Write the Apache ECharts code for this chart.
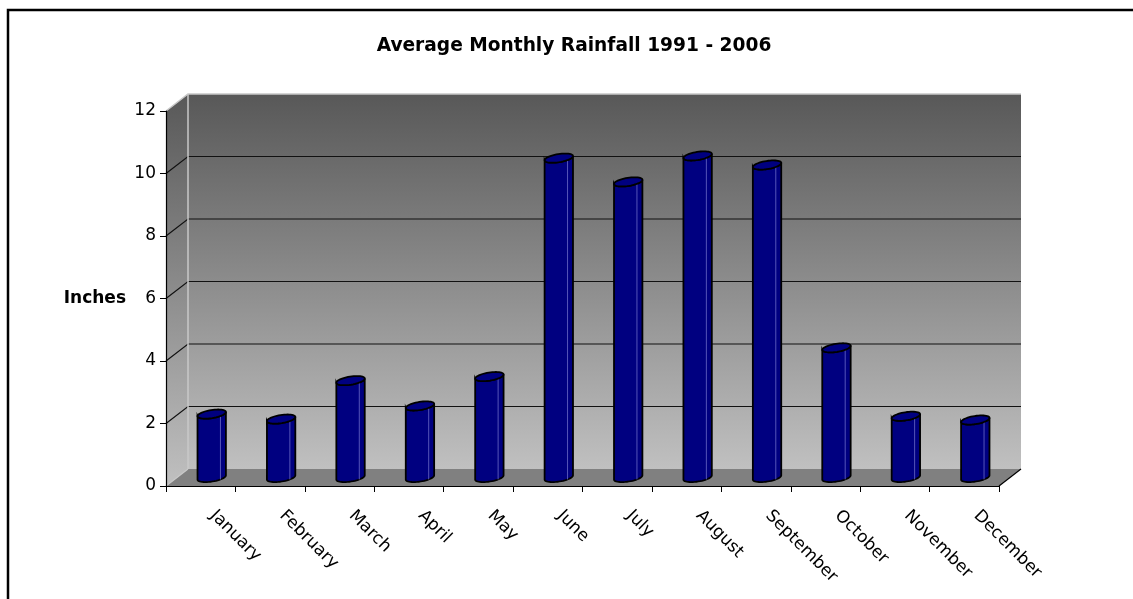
<!DOCTYPE html>
<html>
<head>
<meta charset="utf-8">
<title>Average Monthly Rainfall 1991 - 2006</title>
<script src="https://cdn.jsdelivr.net/npm/echarts@6/dist/echarts.min.js"></script>
<style>
  html, body { margin: 0; padding: 0; background: #ffffff; }
  #chart { width: 1133px; height: 599px; }
</style>
</head>
<body>
<div id="chart"></div>
<script>
// Average monthly rainfall (inches), 1991 - 2006
const months = ['January', 'February', 'March', 'April', 'May', 'June',
                'July', 'August', 'September', 'October', 'November', 'December'];
const rainfall = [2.03, 1.87, 3.10, 2.29, 3.23, 10.22, 9.46, 10.29, 10.0, 4.15, 1.96, 1.84];
const yTicks = [0, 2, 4, 6, 8, 10, 12];

const FONT = 'DejaVu Sans';
// Pseudo-3D depth of the plot box (pixels, towards the back wall)
const DEPTH_X = 22;
const DEPTH_Y = -17;

const chart = echarts.init(document.getElementById('chart'), null, { renderer: 'canvas' });

function wallGradient() {
  return new echarts.graphic.LinearGradient(0, 0, 0, 1, [
    { offset: 0, color: '#585858' },
    { offset: 1, color: '#c0c0c0' }
  ]);
}

// Side wall, back wall, floor and the wall gridlines
function renderWalls(params, api) {
  const cs = params.coordSys;
  const L = cs.x, R = cs.x + cs.width, T = cs.y, B = cs.y + cs.height;
  const dx = DEPTH_X, dy = DEPTH_Y;
  const children = [];

  children.push({
    type: 'polygon',
    shape: { points: [[L, T], [L + dx, T + dy], [L + dx, B + dy], [L, B]] },
    style: { fill: wallGradient() }
  });
  children.push({
    type: 'polygon',
    shape: { points: [[L + dx, T + dy], [R + dx, T + dy], [R + dx, B + dy], [L + dx, B + dy]] },
    style: { fill: wallGradient() }
  });
  children.push({
    type: 'polygon',
    shape: { points: [[L, B], [L + dx, B + dy], [R + dx, B + dy], [R, B]] },
    style: { fill: '#808080' }
  });

  yTicks.forEach(function (v) {
    if (v === yTicks[0] || v === yTicks[yTicks.length - 1]) return;
    const y = api.coord([0, v])[1];
    children.push({
      type: 'polyline',
      shape: { points: [[L, y], [L + dx, y + dy], [R + dx, y + dy]] },
      style: { stroke: '#111111', lineWidth: 1.2, fill: null }
    });
  });

  // light edges of the box
  children.push({
    type: 'polyline',
    shape: { points: [[L, T], [L + dx, T + dy], [R + dx, T + dy]] },
    style: { stroke: '#c8c8c8', lineWidth: 1.5, fill: null }
  });
  children.push({
    type: 'line',
    shape: { x1: L + dx, y1: T + dy, x2: L + dx, y2: B + dy },
    style: { stroke: '#c8c8c8', lineWidth: 1.5 }
  });
  children.push({
    type: 'line',
    shape: { x1: L, y1: B, x2: L + dx, y2: B + dy },
    style: { stroke: '#c8c8c8', lineWidth: 1.2 }
  });
  // floor right edge
  children.push({
    type: 'line',
    shape: { x1: R, y1: B, x2: R + dx, y2: B + dy },
    style: { stroke: '#000000', lineWidth: 1.2 }
  });

  return { type: 'group', children: children };
}

// Cylinder columns standing in the middle of the box depth
function renderCylinder(params, api) {
  const i = api.value(0);
  const v = api.value(1);
  const top = api.coord([i, v]);
  const base = api.coord([i, 0]);
  const band = api.size([1, 0])[0];
  const rx = band * 0.207;
  const ry = rx * 0.28;
  const th = -9 * Math.PI / 180;
  const ct = Math.cos(th), st = Math.sin(th);
  const cx = top[0] + DEPTH_X / 2;
  const yTop = top[1] + DEPTH_Y / 2;
  const yBot = base[1] + DEPTH_Y / 2;

  function pt(cy, t) {
    const a = rx * Math.cos(t), b = ry * Math.sin(t);
    return [cx + a * ct - b * st, cy + a * st + b * ct];
  }

  const N = 24;
  const body = [];
  body.push(pt(yTop, Math.PI));
  for (let k = 0; k <= N; k++) body.push(pt(yBot, Math.PI - Math.PI * k / N));
  for (let k = 0; k <= N; k++) body.push(pt(yTop, Math.PI * k / N));

  const cap = [];
  for (let k = 0; k < 2 * N; k++) cap.push(pt(yTop, 2 * Math.PI * k / (2 * N)));

  // highlight streak on the lit side of the cylinder
  const tH = Math.acos(0.58);
  const hTop = pt(yTop, tH);
  const hBot = pt(yBot, tH);

  return {
    type: 'group',
    children: [
      {
        type: 'polygon',
        shape: { points: body },
        style: { fill: '#000080', stroke: '#000000', lineWidth: 1.8 }
      },
      {
        type: 'line',
        shape: { x1: hTop[0], y1: hTop[1], x2: hBot[0], y2: hBot[1] },
        style: { stroke: '#5555b8', lineWidth: 1 }
      },
      {
        type: 'polygon',
        shape: { points: cap },
        style: { fill: '#000080', stroke: '#000000', lineWidth: 1.8 }
      }
    ]
  };
}

const option = {
  animation: false,
  backgroundColor: '#ffffff',
  textStyle: { fontFamily: FONT },
  graphic: [
    {
      type: 'rect',
      shape: { x: 8, y: 10, width: 1400, height: 800 },
      style: { fill: null, stroke: '#000000', lineWidth: 2.5 },
      silent: true,
      z: 10
    },
    {
      type: 'text',
      x: 574,
      y: 46,
      style: {
        text: 'Average Monthly Rainfall 1991 - 2006',
        fontFamily: FONT,
        fontWeight: 'bold',
        fontSize: 18.6,
        fill: '#000000',
        textAlign: 'center',
        textVerticalAlign: 'middle'
      }
    }
  ],
  grid: { left: 166, right: 134, top: 111, bottom: 113, containLabel: false },
  xAxis: {
    type: 'category',
    data: months,
    boundaryGap: true,
    axisLine: { show: true, lineStyle: { color: '#000000', width: 1.2 } },
    axisTick: { show: true, length: 6, lineStyle: { color: '#000000' } },
    axisLabel: {
      rotate: -45,
      margin: 15,
      padding: [0, 0, 0, 17],
      fontFamily: FONT,
      fontSize: 17,
      color: '#000000',
      interval: 0
    },
    splitLine: { show: false }
  },
  yAxis: {
    type: 'value',
    min: 0,
    max: 12,
    interval: 2,
    name: 'Inches',
    nameLocation: 'middle',
    nameRotate: 0,
    nameGap: 40,
    nameTextStyle: { fontFamily: FONT, fontWeight: 'bold', fontSize: 17, color: '#000000', padding: [6, 0, 0, 0] },
    axisLine: { show: true, lineStyle: { color: '#000000', width: 1.2 } },
    axisTick: { show: true, length: 6, lineStyle: { color: '#000000' } },
    axisLabel: { margin: 10, padding: [7, 0, 0, 0], fontFamily: FONT, fontSize: 17, color: '#000000' },
    splitLine: { show: false }
  },
  series: [
    {
      type: 'custom',
      name: 'walls',
      z: -1,
      silent: true,
      renderItem: renderWalls,
      data: [[0, 0]],
      encode: { x: 0, y: 1 }
    },
    {
      type: 'custom',
      name: 'Rainfall',
      z: 3,
      renderItem: renderCylinder,
      data: rainfall.map(function (v, i) { return [i, v]; }),
      encode: { x: 0, y: 1 }
    }
  ]
};

chart.setOption(option);
</script>
</body>
</html>
